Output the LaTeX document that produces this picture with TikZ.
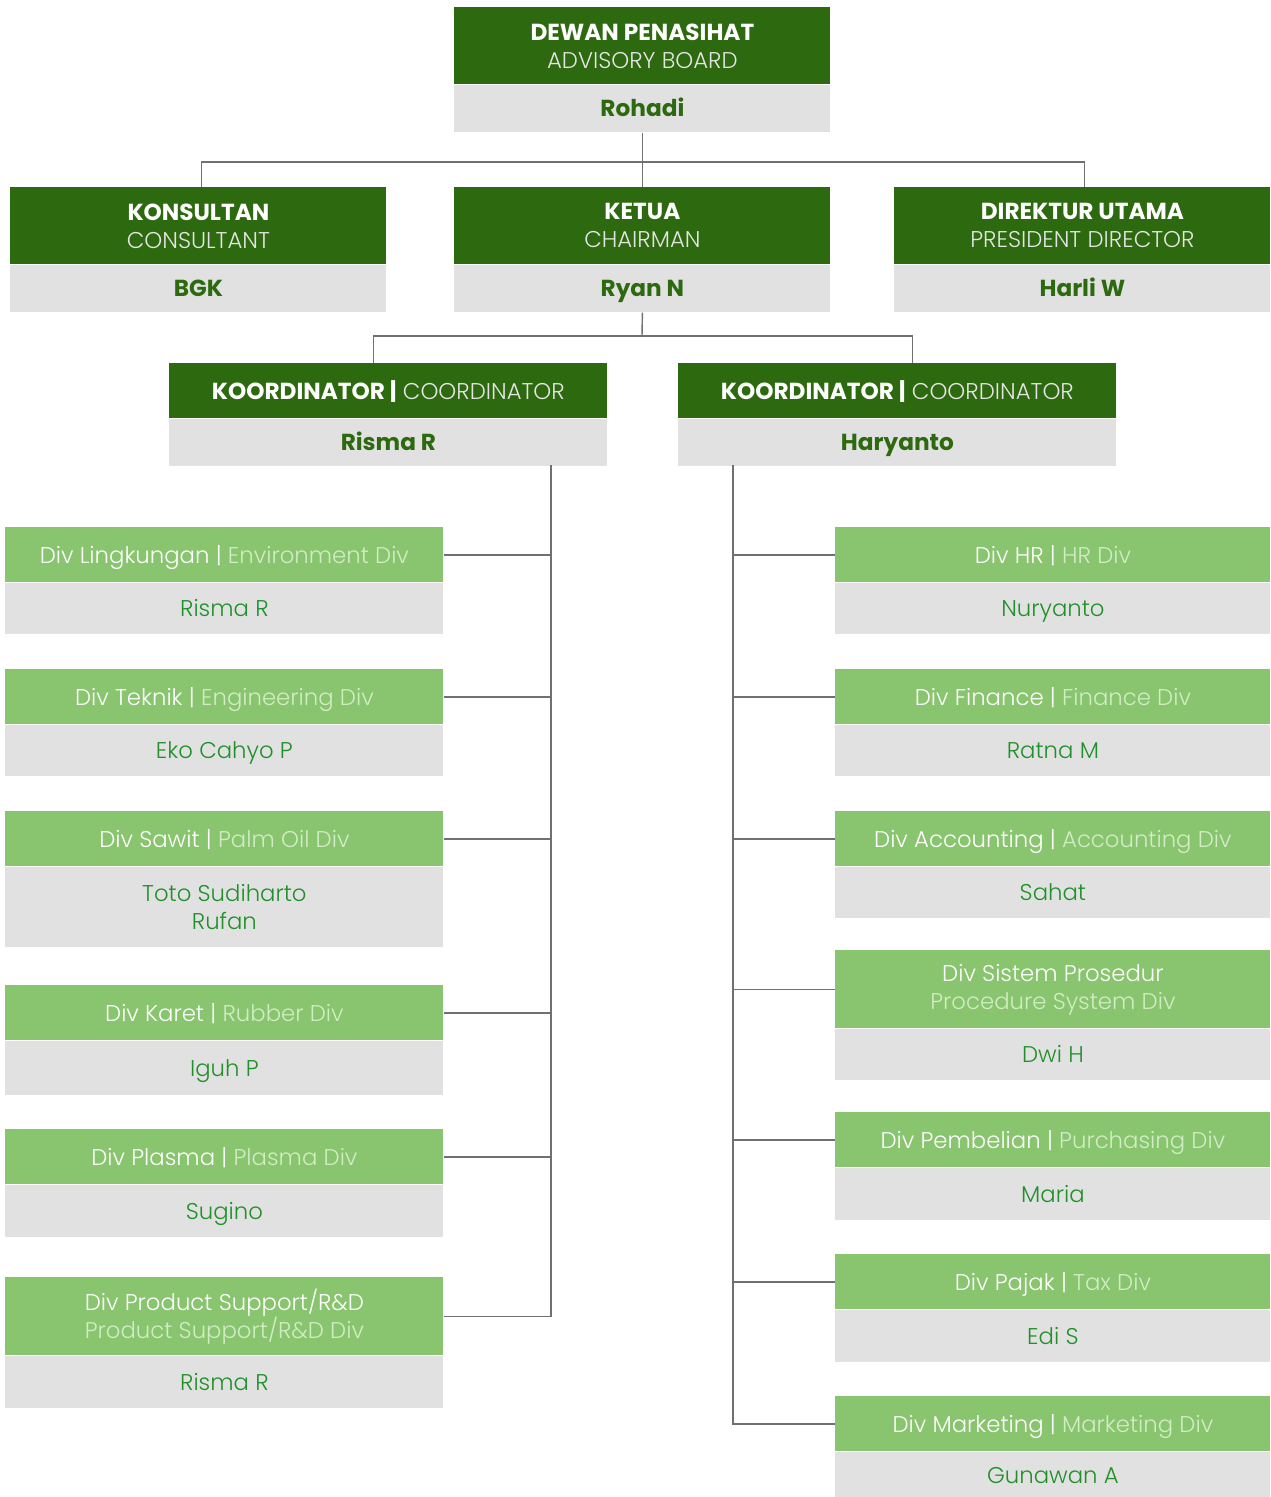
\documentclass[tikz,border=0pt]{standalone}
\usepackage{fontspec}
\setmainfont{Poppins}
\newfontfamily\lightfont{Poppins Light}
\usepackage{xcolor}
\usepackage{tikz}
\usetikzlibrary{positioning}
\definecolor{darkgr}{HTML}{2D690E}
\definecolor{lightgr}{HTML}{89C46F}
\definecolor{boxbg}{HTML}{E1E1E1}
\definecolor{namegr}{HTML}{21902A}
\definecolor{palegr}{HTML}{D2ECC4}
\definecolor{subgrey}{HTML}{E4E4E4}
\definecolor{linec}{HTML}{707070}
\newcommand{\divlbl}[2]{#1 {\color{palegr}#2}}
\newcommand{\toplbl}[2]{{\bfseries #1}\\{\lightfont\fontsize{11.4}{14}\selectfont\color{subgrey}#2}}

\begin{document}
\begin{tikzpicture}[x=0.5pt,y=-0.5pt,
  font=\fontsize{11.6}{14}\selectfont,
  link/.style={draw=linec,line width=0.7pt},
  one/.style={text height=8.2pt,text depth=0pt},
  hdr/.style={fill=darkgr,text=white,minimum width=188pt,minimum height=38.5pt,
              inner sep=0pt,align=center,anchor=north west},
  nm/.style={fill=boxbg,text=darkgr,font=\fontsize{11.6}{14}\selectfont\bfseries,
             minimum width=188pt,minimum height=23.5pt,inner sep=0pt,anchor=north,one},
  kd/.style={hdr,minimum width=219pt,minimum height=27.5pt,one},
  kn/.style={nm,minimum width=219pt},
  dh/.style={fill=lightgr,text=white,font=\lightfont\fontsize{11.4}{14}\selectfont,
             minimum width=219pt,minimum height=27.5pt,inner sep=0pt,align=center,
             anchor=north west,one},
  dn/.style={fill=boxbg,text=namegr,font=\lightfont\fontsize{11.4}{14}\selectfont,
             minimum width=219pt,minimum height=25.5pt,inner sep=0pt,align=center,
             anchor=north,one},
  two/.style={text height={},text depth={}},
  rdh/.style={dh,minimum width=217.5pt},
  rdn/.style={dn,minimum width=217.5pt},
]
\useasboundingbox (0,0) rectangle (1270,1497);

% board, consultant, chairman, director
\node[hdr] (hAdv) at (454,7) {\toplbl{DEWAN PENASIHAT}{ADVISORY BOARD}};
\node[nm] (nAdv) at (hAdv.south) {Rohadi};
\node[hdr] (hKon) at (10,187) {\toplbl{KONSULTAN}{CONSULTANT}};
\node[nm] (nKon) at (hKon.south) {BGK};
\node[hdr] (hKet) at (454,187) {\toplbl{KETUA}{CHAIRMAN}};
\node[nm] (nKet) at (hKet.south) {Ryan N};
\node[hdr] (hDir) at (894,187) {\toplbl{DIREKTUR UTAMA}{PRESIDENT DIRECTOR}};
\node[nm] (nDir) at (hDir.south) {Harli W};

% coordinators
\node[kd] (hKL) at (169,363) {{\bfseries KOORDINATOR |} {\lightfont\fontsize{11.4}{14}\selectfont\color{subgrey}COORDINATOR}};
\node[kn] (nKL) at (hKL.south) {Risma R};
\node[kd] (hKR) at (678,363) {{\bfseries KOORDINATOR |} {\lightfont\fontsize{11.4}{14}\selectfont\color{subgrey}COORDINATOR}};
\node[kn] (nKR) at (hKR.south) {Haryanto};

% left divisions
\node[dh] (hL1) at (5,527) {\divlbl{Div Lingkungan |}{Environment Div}};
\node[dn] (nL1) at (hL1.south) {Risma R};
\node[dh] (hL2) at (5,669) {\divlbl{Div Teknik |}{Engineering Div}};
\node[dn] (nL2) at (hL2.south) {Eko Cahyo P};
\node[dh] (hL3) at (5,811) {\divlbl{Div Sawit |}{Palm Oil Div}};
\node[dn,two,minimum height=40pt] (nL3) at (hL3.south) {Toto Sudiharto\\Rufan};
\node[dh] (hL4) at (5,985) {\divlbl{Div Karet |}{Rubber Div}};
\node[dn,minimum height=27pt] (nL4) at (hL4.south) {Iguh P};
\node[dh] (hL5) at (5,1129) {\divlbl{Div Plasma |}{Plasma Div}};
\node[dn,minimum height=26pt] (nL5) at (hL5.south) {Sugino};
\node[dh,two,minimum height=39pt] (hL6) at (5,1277)
  {Div Product Support/R\&D\\{\color{palegr}Product Support/R\&D Div}};
\node[dn,minimum height=26pt] (nL6) at (hL6.south) {Risma R};

% right divisions
\node[rdh] (hR1) at (835,527) {\divlbl{Div HR |}{HR Div}};
\node[rdn] (nR1) at (hR1.south) {Nuryanto};
\node[rdh] (hR2) at (835,669) {\divlbl{Div Finance |}{Finance Div}};
\node[rdn] (nR2) at (hR2.south) {Ratna M};
\node[rdh] (hR3) at (835,811) {\divlbl{Div Accounting |}{Accounting Div}};
\node[rdn] (nR3) at (hR3.south) {Sahat};
\node[rdh,two,minimum height=39pt] (hR4) at (835,950)
  {Div Sistem Prosedur\\{\color{palegr}Procedure System Div}};
\node[rdn] (nR4) at (hR4.south) {Dwi H};
\node[rdh] (hR5) at (835,1112) {\divlbl{Div Pembelian |}{Purchasing Div}};
\node[rdn,minimum height=26pt] (nR5) at (hR5.south) {Maria};
\node[rdh] (hR6) at (835,1254) {\divlbl{Div Pajak |}{Tax Div}};
\node[rdn,minimum height=26pt] (nR6) at (hR6.south) {Edi S};
\node[rdh] (hR7) at (835,1396) {\divlbl{Div Marketing |}{Marketing Div}};
\node[rdn,minimum height=23pt] (nR7) at (hR7.south) {Gunawan A};

% connectors
\coordinate (busA) at (642,162);
\coordinate (busB) at (642,336);
\coordinate (spL) at (551,465);
\coordinate (spR) at (733,465);
\draw[link] (nAdv.south) -- (hKet.north);
\draw[link] ([xshift=1.5pt]hKon.north) |- (busA) -| ([xshift=1pt]hDir.north);
\draw[link] (nKet.south) -- (busB);
\draw[link] ([xshift=-7.5pt]hKL.north) |- (busB) -| ([xshift=7.5pt]hKR.north);

\draw[link] (spL) |- (hL6.east);
\draw[link] (hL1.east) -- (hL1.east -| spL);
\draw[link] (hL2.east) -- (hL2.east -| spL);
\draw[link] (hL3.east) -- (hL3.east -| spL);
\draw[link] (hL4.east) -- (hL4.east -| spL);
\draw[link] (hL5.east) -- (hL5.east -| spL);

\draw[link] (spR) |- (hR7.west);
\draw[link] (hR1.west) -- (hR1.west -| spR);
\draw[link] (hR2.west) -- (hR2.west -| spR);
\draw[link] (hR3.west) -- (hR3.west -| spR);
\draw[link] (hR4.west) -- (hR4.west -| spR);
\draw[link] (hR5.west) -- (hR5.west -| spR);
\draw[link] (hR6.west) -- (hR6.west -| spR);
\end{tikzpicture}
\end{document}
